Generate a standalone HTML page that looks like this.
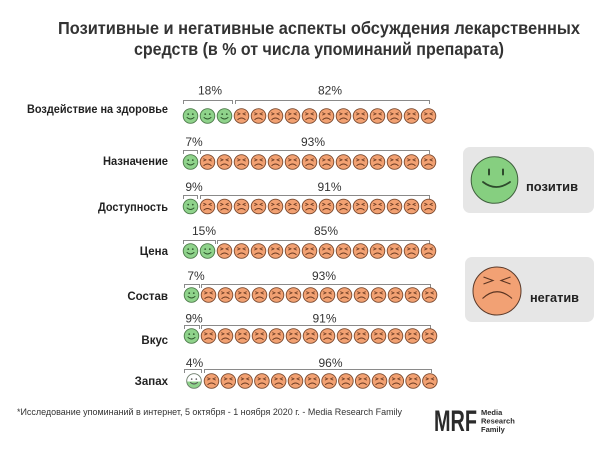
<!DOCTYPE html>
<html>
<head>
<meta charset="utf-8">
<style>
html,body{margin:0;padding:0;background:#fff;}
svg{display:block;}
text{font-family:"Liberation Sans","DejaVu Sans",sans-serif;}
</style>
</head>
<body>
<svg width="610" height="470" viewBox="0 0 610 470" xmlns="http://www.w3.org/2000/svg">
<defs>
  <g id="p">
    <circle r="7.3" fill="#8fd38b" stroke="#4d7a4a" stroke-width="0.9"/>
    <circle cx="-2.3" cy="-1.9" r="0.85" fill="#2e552c"/>
    <circle cx="2.3" cy="-1.9" r="0.85" fill="#2e552c"/>
    <path d="M-3.8 1.2 Q0 4.8 3.8 1.2" fill="none" stroke="#2e552c" stroke-width="0.9"/>
  </g>
  <g id="n">
    <circle r="7.3" fill="#f2a172" stroke="#7a4a30" stroke-width="0.9"/>
    <path d="M-4.2 -3.4 L-1.5 -2.1 L-4.2 -0.9 M4.2 -3.4 L1.5 -2.1 L4.2 -0.9" fill="none" stroke="#6a3a22" stroke-width="0.8"/>
    <path d="M-4 3.8 Q0 0.2 4 3.8" fill="none" stroke="#6a3a22" stroke-width="0.9"/>
  </g>
  <clipPath id="half"><rect x="-9" y="0.5" width="18" height="9"/></clipPath>
</defs>

<!-- Title -->
<text x="58" y="34" font-size="17.5" font-weight="bold" fill="#333" textLength="522" lengthAdjust="spacingAndGlyphs">Позитивные и негативные аспекты обсуждения лекарственных</text>
<text x="134" y="55" font-size="17.5" font-weight="bold" fill="#333" textLength="370" lengthAdjust="spacingAndGlyphs">средств (в % от числа упоминаний препарата)</text>

<!-- Row labels -->
<g font-size="11.5" font-weight="bold" fill="#222" text-anchor="end">
  <text x="168" y="113" textLength="141" lengthAdjust="spacingAndGlyphs">Воздействие на здоровье</text>
  <text x="168" y="165" textLength="65" lengthAdjust="spacingAndGlyphs">Назначение</text>
  <text x="168" y="211" textLength="70" lengthAdjust="spacingAndGlyphs">Доступность</text>
  <text x="168" y="255">Цена</text>
  <text x="168" y="300">Состав</text>
  <text x="168" y="344">Вкус</text>
  <text x="168" y="385">Запах</text>
</g>

<!-- Percent labels -->
<g font-size="12" fill="#333" text-anchor="middle">
  <text x="210" y="94.5">18%</text><text x="330" y="94.5">82%</text>
  <text x="194" y="146">7%</text><text x="313" y="146">93%</text>
  <text x="194" y="191">9%</text><text x="329.5" y="191">91%</text>
  <text x="204" y="235">15%</text><text x="326" y="235">85%</text>
  <text x="196" y="280">7%</text><text x="324" y="280">93%</text>
  <text x="194" y="322.5">9%</text><text x="324.5" y="322.5">91%</text>
  <text x="194.5" y="367">4%</text><text x="330.5" y="367">96%</text>
</g>

<!-- Brackets -->
<g fill="none" stroke="#8a8a8a" stroke-width="1">
  <path d="M183.5 104 V100.5 H232.5 V104 M235.5 104 V100.5 H429.5 V104"/>
  <path d="M183.5 154 V150.5 H197.5 V154 M200.5 154 V150.5 H429.5 V154"/>
  <path d="M183.5 199 V195.5 H197.5 V199 M200.5 199 V195.5 H429.5 V199"/>
  <path d="M183.5 244 V240.5 H215.5 V244 M217.5 244 V240.5 H429.5 V244"/>
  <path d="M184.5 288 V284.5 H199.5 V288 M201.5 288 V284.5 H430.5 V288"/>
  <path d="M184.5 329 V325.5 H199.5 V329 M201.5 329 V325.5 H430.5 V329"/>
  <path d="M184.5 373 V369.5 H201.5 V373 M204.5 373 V369.5 H431.5 V373"/>
</g>

<!-- Row 1: 3 pos -->
<g transform="translate(0,116)">
  <use href="#p" x="190.5"/><use href="#p" x="207.5"/><use href="#p" x="224.5"/>
  <use href="#n" x="241.5"/><use href="#n" x="258.5"/><use href="#n" x="275.5"/><use href="#n" x="292.5"/><use href="#n" x="309.5"/><use href="#n" x="326.5"/><use href="#n" x="343.5"/><use href="#n" x="360.5"/><use href="#n" x="377.5"/><use href="#n" x="394.5"/><use href="#n" x="411.5"/><use href="#n" x="428.5"/>
</g>
<!-- Row 2 -->
<g transform="translate(0,162)">
  <use href="#p" x="190.5"/>
  <use href="#n" x="207.5"/><use href="#n" x="224.5"/><use href="#n" x="241.5"/><use href="#n" x="258.5"/><use href="#n" x="275.5"/><use href="#n" x="292.5"/><use href="#n" x="309.5"/><use href="#n" x="326.5"/><use href="#n" x="343.5"/><use href="#n" x="360.5"/><use href="#n" x="377.5"/><use href="#n" x="394.5"/><use href="#n" x="411.5"/><use href="#n" x="428.5"/>
</g>
<!-- Row 3 -->
<g transform="translate(0,206.5)">
  <use href="#p" x="190.5"/>
  <use href="#n" x="207.5"/><use href="#n" x="224.5"/><use href="#n" x="241.5"/><use href="#n" x="258.5"/><use href="#n" x="275.5"/><use href="#n" x="292.5"/><use href="#n" x="309.5"/><use href="#n" x="326.5"/><use href="#n" x="343.5"/><use href="#n" x="360.5"/><use href="#n" x="377.5"/><use href="#n" x="394.5"/><use href="#n" x="411.5"/><use href="#n" x="428.5"/>
</g>
<!-- Row 4 -->
<g transform="translate(0,251)">
  <use href="#p" x="190.5"/><use href="#p" x="207.5"/>
  <use href="#n" x="224.5"/><use href="#n" x="241.5"/><use href="#n" x="258.5"/><use href="#n" x="275.5"/><use href="#n" x="292.5"/><use href="#n" x="309.5"/><use href="#n" x="326.5"/><use href="#n" x="343.5"/><use href="#n" x="360.5"/><use href="#n" x="377.5"/><use href="#n" x="394.5"/><use href="#n" x="411.5"/><use href="#n" x="428.5"/>
</g>
<!-- Row 5 -->
<g transform="translate(1,295)">
  <use href="#p" x="190.5"/>
  <use href="#n" x="207.5"/><use href="#n" x="224.5"/><use href="#n" x="241.5"/><use href="#n" x="258.5"/><use href="#n" x="275.5"/><use href="#n" x="292.5"/><use href="#n" x="309.5"/><use href="#n" x="326.5"/><use href="#n" x="343.5"/><use href="#n" x="360.5"/><use href="#n" x="377.5"/><use href="#n" x="394.5"/><use href="#n" x="411.5"/><use href="#n" x="428.5"/>
</g>
<!-- Row 6 -->
<g transform="translate(1,336)">
  <use href="#p" x="190.5"/>
  <use href="#n" x="207.5"/><use href="#n" x="224.5"/><use href="#n" x="241.5"/><use href="#n" x="258.5"/><use href="#n" x="275.5"/><use href="#n" x="292.5"/><use href="#n" x="309.5"/><use href="#n" x="326.5"/><use href="#n" x="343.5"/><use href="#n" x="360.5"/><use href="#n" x="377.5"/><use href="#n" x="394.5"/><use href="#n" x="411.5"/><use href="#n" x="428.5"/>
</g>
<!-- Row 7 (partial first face) -->
<g transform="translate(2,381)">
  <g transform="translate(192,0)">
    <circle r="7.3" fill="#fff"/>
    <circle r="7.3" fill="#8fd38b" clip-path="url(#half)"/>
    <circle r="7.3" fill="none" stroke="#6a7a68" stroke-width="0.9"/>
    <circle cx="-2.3" cy="-1.9" r="0.8" fill="#555"/>
    <circle cx="2.3" cy="-1.9" r="0.8" fill="#555"/>
    <path d="M-3.8 1.2 Q0 4.8 3.8 1.2" fill="none" stroke="#555" stroke-width="0.9"/>
  </g>
  <use href="#n" x="209.5"/><use href="#n" x="226.3"/><use href="#n" x="243.1"/><use href="#n" x="259.9"/><use href="#n" x="276.7"/><use href="#n" x="293.5"/><use href="#n" x="310.3"/><use href="#n" x="327.1"/><use href="#n" x="343.9"/><use href="#n" x="360.7"/><use href="#n" x="377.5"/><use href="#n" x="394.3"/><use href="#n" x="411.1"/><use href="#n" x="427.9"/>
</g>

<!-- Legend -->
<rect x="463" y="147" width="131" height="66" rx="7" fill="#e6e6e6"/>
<circle cx="494.5" cy="180" r="23.3" fill="#86cf80" stroke="#3f5f3d" stroke-width="1"/>
<path d="M489 169.5 V174.5 M503 169.5 V174.5" stroke="#2e4a2c" stroke-width="2" stroke-linecap="round"/>
<path d="M483 182 Q496 192 510 182" fill="none" stroke="#2e4a2c" stroke-width="1.8" stroke-linecap="round"/>
<text x="526" y="191" font-size="13" font-weight="bold" fill="#222" textLength="52" lengthAdjust="spacingAndGlyphs">позитив</text>

<rect x="465" y="257" width="129" height="65" rx="7" fill="#e6e6e6"/>
<circle cx="497" cy="291" r="24" fill="#f2a174" stroke="#5a3a2a" stroke-width="1"/>
<path d="M483.5 277 L493 280.5 L483.5 284 M510.5 277 L501 280.5 L510.5 284" fill="none" stroke="#5a3422" stroke-width="1.1"/>
<path d="M482.5 298.5 Q497 285 512 298.5" fill="none" stroke="#5a3422" stroke-width="1.1"/>
<text x="530" y="302" font-size="13" font-weight="bold" fill="#222" textLength="49" lengthAdjust="spacingAndGlyphs">негатив</text>

<!-- Footnote -->
<text x="17" y="415" font-size="9.5" fill="#333" textLength="385" lengthAdjust="spacingAndGlyphs">*Исследование упоминаний в интернет, 5 октября - 1 ноября 2020 г. - Media Research Family</text>

<!-- Logo -->
<text x="434" y="431" font-size="30" font-weight="bold" fill="#2b2b2b" textLength="43" lengthAdjust="spacingAndGlyphs">MRF</text>
<g font-size="7.5" font-weight="bold" fill="#2b2b2b">
  <text x="481" y="415">Media</text>
  <text x="481" y="423.5">Research</text>
  <text x="481" y="432">Family</text>
</g>
</svg>
</body>
</html>
